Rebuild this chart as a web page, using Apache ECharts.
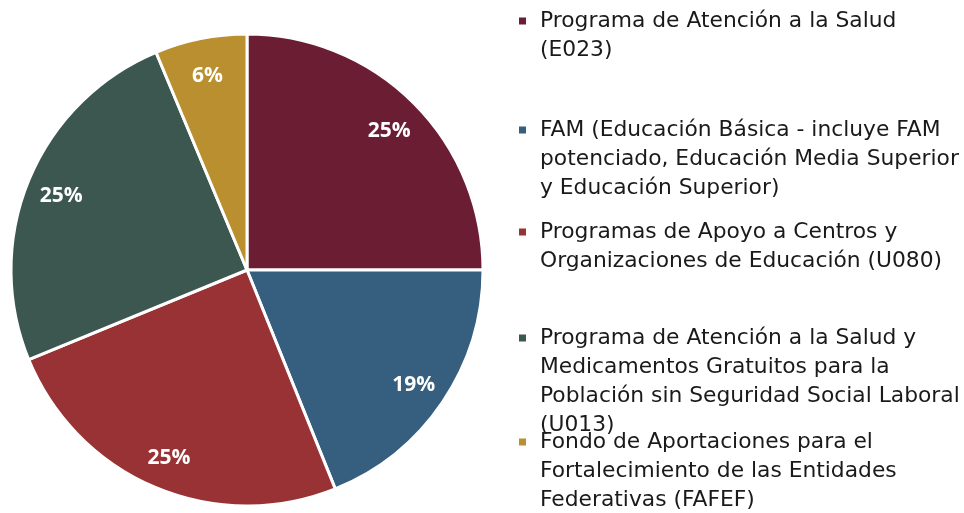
<!DOCTYPE html>
<html>
<head>
<meta charset="utf-8">
<script src="https://cdn.jsdelivr.net/npm/echarts@6/dist/echarts.min.js"></script>
<style>
  html, body { margin: 0; padding: 0; background: #ffffff; }
  #main { width: 964px; height: 513px; }
</style>
</head>
<body>
<div id="main"></div>
<script>
var myChart = echarts.init(document.getElementById('main'));

// 数据
var names = [
    'Programa de Atención a la Salud (E023)',
    'FAM (Educación Básica - incluye FAM potenciado, Educación Media Superior y Educación Superior)',
    'Programas de Apoyo a Centros y Organizaciones de Educación (U080)',
    'Programa de Atención a la Salud y Medicamentos Gratuitos para la Población sin Seguridad Social Laboral (U013)',
    'Fondo de Aportaciones para el Fortalecimiento de las Entidades Federativas (FAFEF)'
];
var legendLines = [
    ['Programa de Atención a la Salud', '(E023)'],
    ['FAM (Educación Básica - incluye FAM', 'potenciado, Educación Media Superior', 'y Educación Superior)'],
    ['Programas de Apoyo a Centros y', 'Organizaciones de Educación (U080)'],
    ['Programa de Atención a la Salud y', 'Medicamentos Gratuitos para la', 'Población sin Seguridad Social Laboral', '(U013)'],
    ['Fondo de Aportaciones para el', 'Fortalecimiento de las Entidades', 'Federativas (FAFEF)']
];
var values = [25.0, 18.9, 24.9, 24.9, 6.3];
var colors = ['#6a1d33', '#365e7e', '#983234', '#3c5750', '#b98f2f'];

// 图例第一行的位置
var firstLineY = [21, 130, 232, 338, 442];
var lineH = 29;

var pieData = names.map(function(n, i) {
    return { name: n, value: values[i], itemStyle: { color: colors[i] } };
});

// 每个图例单独定位, 前面补空行让图标对齐第一行
var legends = names.map(function(n, i) {
    var k = legendLines[i].length;
    var blank = '';
    for (var j = 1; j < k; j++) blank += '\n';
    return {
        orient: 'vertical',
        left: 517,
        top: firstLineY[i] - (2 * k - 1) * lineH / 2,
        padding: 0,
        icon: 'rect',
        itemWidth: 9,
        itemHeight: 9,
        itemGap: 0,
        selectedMode: false,
        data: [n],
        formatter: function() { return blank + legendLines[i].join('\n'); },
        textStyle: {
            fontFamily: 'DejaVu Sans',
            fontSize: 21.8,
            color: '#1a1a1a',
            lineHeight: lineH,
            padding: [0, 0, 0, 8]
        }
    };
});

var option = {
    backgroundColor: '#ffffff',
    animation: false,
    legend: legends,
    series: [{
        type: 'pie',
        center: [247, 270],
        radius: [0, 236],
        startAngle: 90,
        clockwise: true,
        percentPrecision: 0,
        itemStyle: { borderColor: '#ffffff', borderWidth: 3 },
        label: { show: false },
        labelLine: { show: false },
        emphasis: { disabled: true },
        data: pieData
    }, {
        // 标签层
        type: 'pie',
        center: [247, 273],
        radius: [164, 232],
        startAngle: 90,
        clockwise: true,
        percentPrecision: 0,
        silent: true,
        itemStyle: { color: 'rgba(0,0,0,0)', borderWidth: 0 },
        label: {
            show: true,
            position: 'inside',
            formatter: '{d}%',
            color: '#ffffff',
            fontFamily: 'Open Sans',
            fontWeight: 'bold',
            fontSize: 21
        },
        labelLine: { show: false },
        emphasis: { disabled: true },
        data: names.map(function(n, i) { return { name: n, value: values[i] }; })
    }]
};

myChart.setOption(option);
</script>
</body>
</html>
